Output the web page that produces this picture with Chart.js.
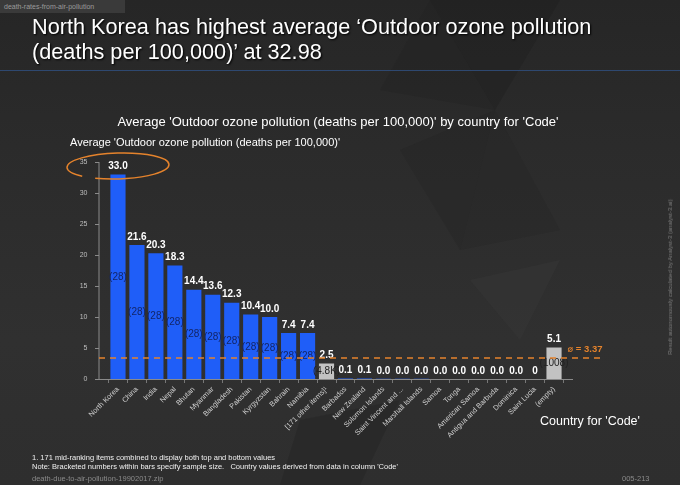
<!DOCTYPE html>
<html>
<head>
<meta charset="utf-8">
<title>Outdoor ozone pollution by country</title>
<script src="https://cdn.jsdelivr.net/npm/chart.js@4.4.1/dist/chart.umd.min.js"></script>
<style>
  html, body { margin: 0; padding: 0; }
  body {
    width: 680px; height: 485px; overflow: hidden; position: relative;
    background: linear-gradient(180deg, #262626 0%, #2b2b2b 30%, #303030 70%, #2e2e2e 100%);
    font-family: "Liberation Sans", Arial, Helvetica, sans-serif;
    color: #fff;
  }
  svg.bg { position: absolute; left: 0; top: 0; }
  canvas { position: absolute; left: 0; top: 0; }
  .txt { position: absolute; white-space: nowrap; }
  .tag { left: 0; top: 0; width: 121px; height: 13px; line-height: 13px; padding-left: 4px;
         background: #3a3a3a; color: #9a9a9a; font-size: 7px; }
  .title { left: 32px; top: 14px; font-size: 21.7px; line-height: 25px; color: #fff;
           text-shadow: 1px 1px 2px #000; }
  .rule { position: absolute; left: 0; top: 70px; width: 680px; height: 1px; background: #2e4870; }
  .chart-title { left: 0; width: 676px; top: 114px; text-align: center; font-size: 13px; }
  .y-title { left: 70px; top: 136px; font-size: 11px; }
  .x-title { left: 540px; top: 414px; font-size: 12.5px; }
  .note { left: 32px; top: 453px; font-size: 7.5px; line-height: 9px; color: #f0f0f0; }
  .file { left: 32px; top: 474px; font-size: 7.5px; color: #8a8a8a; }
  .code { left: 622px; top: 474px; font-size: 7.5px; color: #8a8a8a; }
  .side { left: 670px; top: 277px; font-size: 6px; color: #7a7a7a;
          transform: translate(-50%, -50%) rotate(-90deg); }
</style>
</head>
<body>
<svg class="bg" width="680" height="485">
  <polygon points="430,0 560,0 495,110" fill="#1c1c1c" opacity="0.35"/>
  <polygon points="495,110 430,0 380,90" fill="#222" opacity="0.3"/>
  <polygon points="400,150 495,110 460,250" fill="#1e1e1e" opacity="0.25"/>
  <polygon points="495,110 460,250 560,230" fill="#242424" opacity="0.3"/>
  <polygon points="470,280 560,260 520,340" fill="#3a3a3a" opacity="0.3"/>
  <polygon points="300,420 400,400 360,485 280,485" fill="#1f1f1f" opacity="0.3"/>
</svg>
<canvas id="ozoneChart" width="680" height="485"></canvas>

<div class="txt tag">death-rates-from-air-pollution</div>
<div class="txt title">North Korea has highest average ‘Outdoor ozone pollution<br>(deaths per 100,000)’ at 32.98</div>
<div class="rule"></div>
<div class="txt chart-title">Average 'Outdoor ozone pollution (deaths per 100,000)' by country for 'Code'</div>
<div class="txt y-title">Average 'Outdoor ozone pollution (deaths per 100,000)'</div>
<div class="txt x-title">Country for 'Code'</div>
<div class="txt note">1. 171 mid-ranking items combined to display both top and bottom values<br>Note: Bracketed numbers within bars specify sample size.&nbsp;&nbsp; Country values derived from data in column 'Code'</div>
<div class="txt file">death-due-to-air-pollution-19902017.zip</div>
<div class="txt code">005-213</div>
<div class="txt side">Result autonomously calculated by Analyst-3 (analyst-3.ai)</div>

<script>
// --- Data ---
const categories = [
    'North Korea', 'China', 'India', 'Nepal', 'Bhutan', 'Myanmar', 'Bangladesh',
    'Pakistan', 'Kyrgyzstan', 'Bahrain', 'Namibia', '[171 other items]¹',
    'Barbados', 'New Zealand', 'Solomon Islands', 'Saint Vincent and ...',
    'Marshall Islands', 'Samoa', 'Tonga', 'American Samoa', 'Antigua and Barbuda',
    'Dominica', 'Saint Lucia', '(empty)'
];
const values = [
    32.98, 21.6, 20.3, 18.3, 14.4, 13.6, 12.3,
    10.4, 10.0, 7.4, 7.4, 2.5,
    0.1, 0.1, 0.04, 0.03,
    0.03, 0.02, 0.02, 0.01, 0.01,
    0.01, 0, 5.1
];
const sampleSizes = [
    '28', '28', '28', '28', '28', '28', '28',
    '28', '28', '28', '28', '4.8K',
    '28', '28', '28', '28',
    '28', '28', '28', '28', '28',
    '28', '28', '1008'
];
const averageValue = 3.37;
const yTicks = [0, 5, 10, 15, 20, 25, 30, 35];

const BLUE = '#1f5ef8';
const GREY = '#c2c2c2';
const ORANGE = '#e5832c';
const AXIS = '#8a8a8a';
const FONT = '"Liberation Sans", Arial, Helvetica, sans-serif';

const isGroup = (c) => c.startsWith('[') || c === '(empty)';
const barColors = categories.map(c => isGroup(c) ? GREY : BLUE);

function formatValue(v) {
    return v === 0 ? '0' : v.toFixed(1);
}

// axis lines, value labels, sample sizes, average line and highlight ring
const overlayPlugin = {
    id: 'overlay',
    afterDatasetsDraw(chart) {
        const { ctx, chartArea, scales: { x, y } } = chart;
        const bars = chart.getDatasetMeta(0).data;
        const gap = 9.5;
        const axisL = chartArea.left - gap;
        const axisR = chartArea.right + gap;
        const base = y.getPixelForValue(0);

        ctx.save();
        // axes
        ctx.strokeStyle = AXIS;
        ctx.lineWidth = 1;
        ctx.beginPath();
        ctx.moveTo(axisL, y.getPixelForValue(35));
        ctx.lineTo(axisL, base + 0.5);
        ctx.lineTo(axisR, base + 0.5);
        yTicks.forEach(t => {
            const py = Math.round(y.getPixelForValue(t)) + 0.5;
            ctx.moveTo(axisL - 4, py);
            ctx.lineTo(axisL, py);
        });
        ctx.stroke();

        // value labels above bars, sample sizes inside
        ctx.textAlign = 'center';
        ctx.textBaseline = 'middle';
        bars.forEach((bar, i) => {
            ctx.font = 'bold 10px ' + FONT;
            ctx.fillStyle = '#ffffff';
            ctx.fillText(formatValue(values[i]), bar.x, bar.y - 8);

            if (bar.base - bar.y > 12) {
                ctx.font = '10px ' + FONT;
                ctx.fillStyle = isGroup(categories[i]) ? '#222222' : '#13266a';
                ctx.fillText('(' + sampleSizes[i] + ')', bar.x, (bar.y + bar.base) / 2);
            }
        });

        // average line
        const avgY = y.getPixelForValue(averageValue);
        ctx.strokeStyle = ORANGE;
        ctx.lineWidth = 1.5;
        ctx.setLineDash([6, 5]);
        ctx.beginPath();
        ctx.moveTo(axisL, avgY);
        ctx.lineTo(axisR + 27, avgY);
        ctx.stroke();
        ctx.setLineDash([]);
        ctx.font = 'bold 9.5px ' + FONT + ', "DejaVu Sans"';
        ctx.fillStyle = ORANGE;
        ctx.textAlign = 'left';
        ctx.fillText('⌀ = ' + averageValue.toFixed(2), chartArea.right + 4, avgY - 9);

        // ring round the top value
        const top = bars[0];
        ctx.strokeStyle = ORANGE;
        ctx.lineWidth = 1.5;
        ctx.beginPath();
        ctx.ellipse(top.x, y.getPixelForValue(35) + 4, 51, 13, -0.03, 0.75 * Math.PI, 2.65 * Math.PI);
        ctx.stroke();
        ctx.restore();
    }
};

const ctx = document.getElementById('ozoneChart').getContext('2d');

new Chart(ctx, {
    type: 'bar',
    data: {
        labels: categories,
        datasets: [{
            data: values,
            backgroundColor: barColors,
            borderWidth: 0,
            categoryPercentage: 0.8,
            barPercentage: 1.0
        }]
    },
    options: {
        responsive: false,
        animation: false,
        layout: { padding: { left: 0, top: 162, right: 116.5, bottom: 46 } },
        plugins: {
            legend: { display: false },
            title: { display: false },
            tooltip: { enabled: false }
        },
        scales: {
            y: {
                min: 0,
                max: 35,
                afterFit: (scale) => { scale.width = 108.5; },
                ticks: {
                    stepSize: 5,
                    padding: 13,
                    color: '#bdbdbd',
                    font: { size: 7, family: FONT }
                },
                grid: { display: false },
                border: { display: false }
            },
            x: {
                afterFit: (scale) => { scale.height = 60; },
                ticks: {
                    autoSkip: false,
                    minRotation: 45,
                    maxRotation: 45,
                    padding: 2,
                    color: '#cfcfcf',
                    font: { size: 7.3, family: FONT }
                },
                grid: {
                    display: true,
                    drawOnChartArea: false,
                    drawTicks: true,
                    tickLength: 4,
                    color: '#777777'
                },
                border: { display: false }
            }
        }
    },
    plugins: [overlayPlugin]
});
</script>
</body>
</html>
